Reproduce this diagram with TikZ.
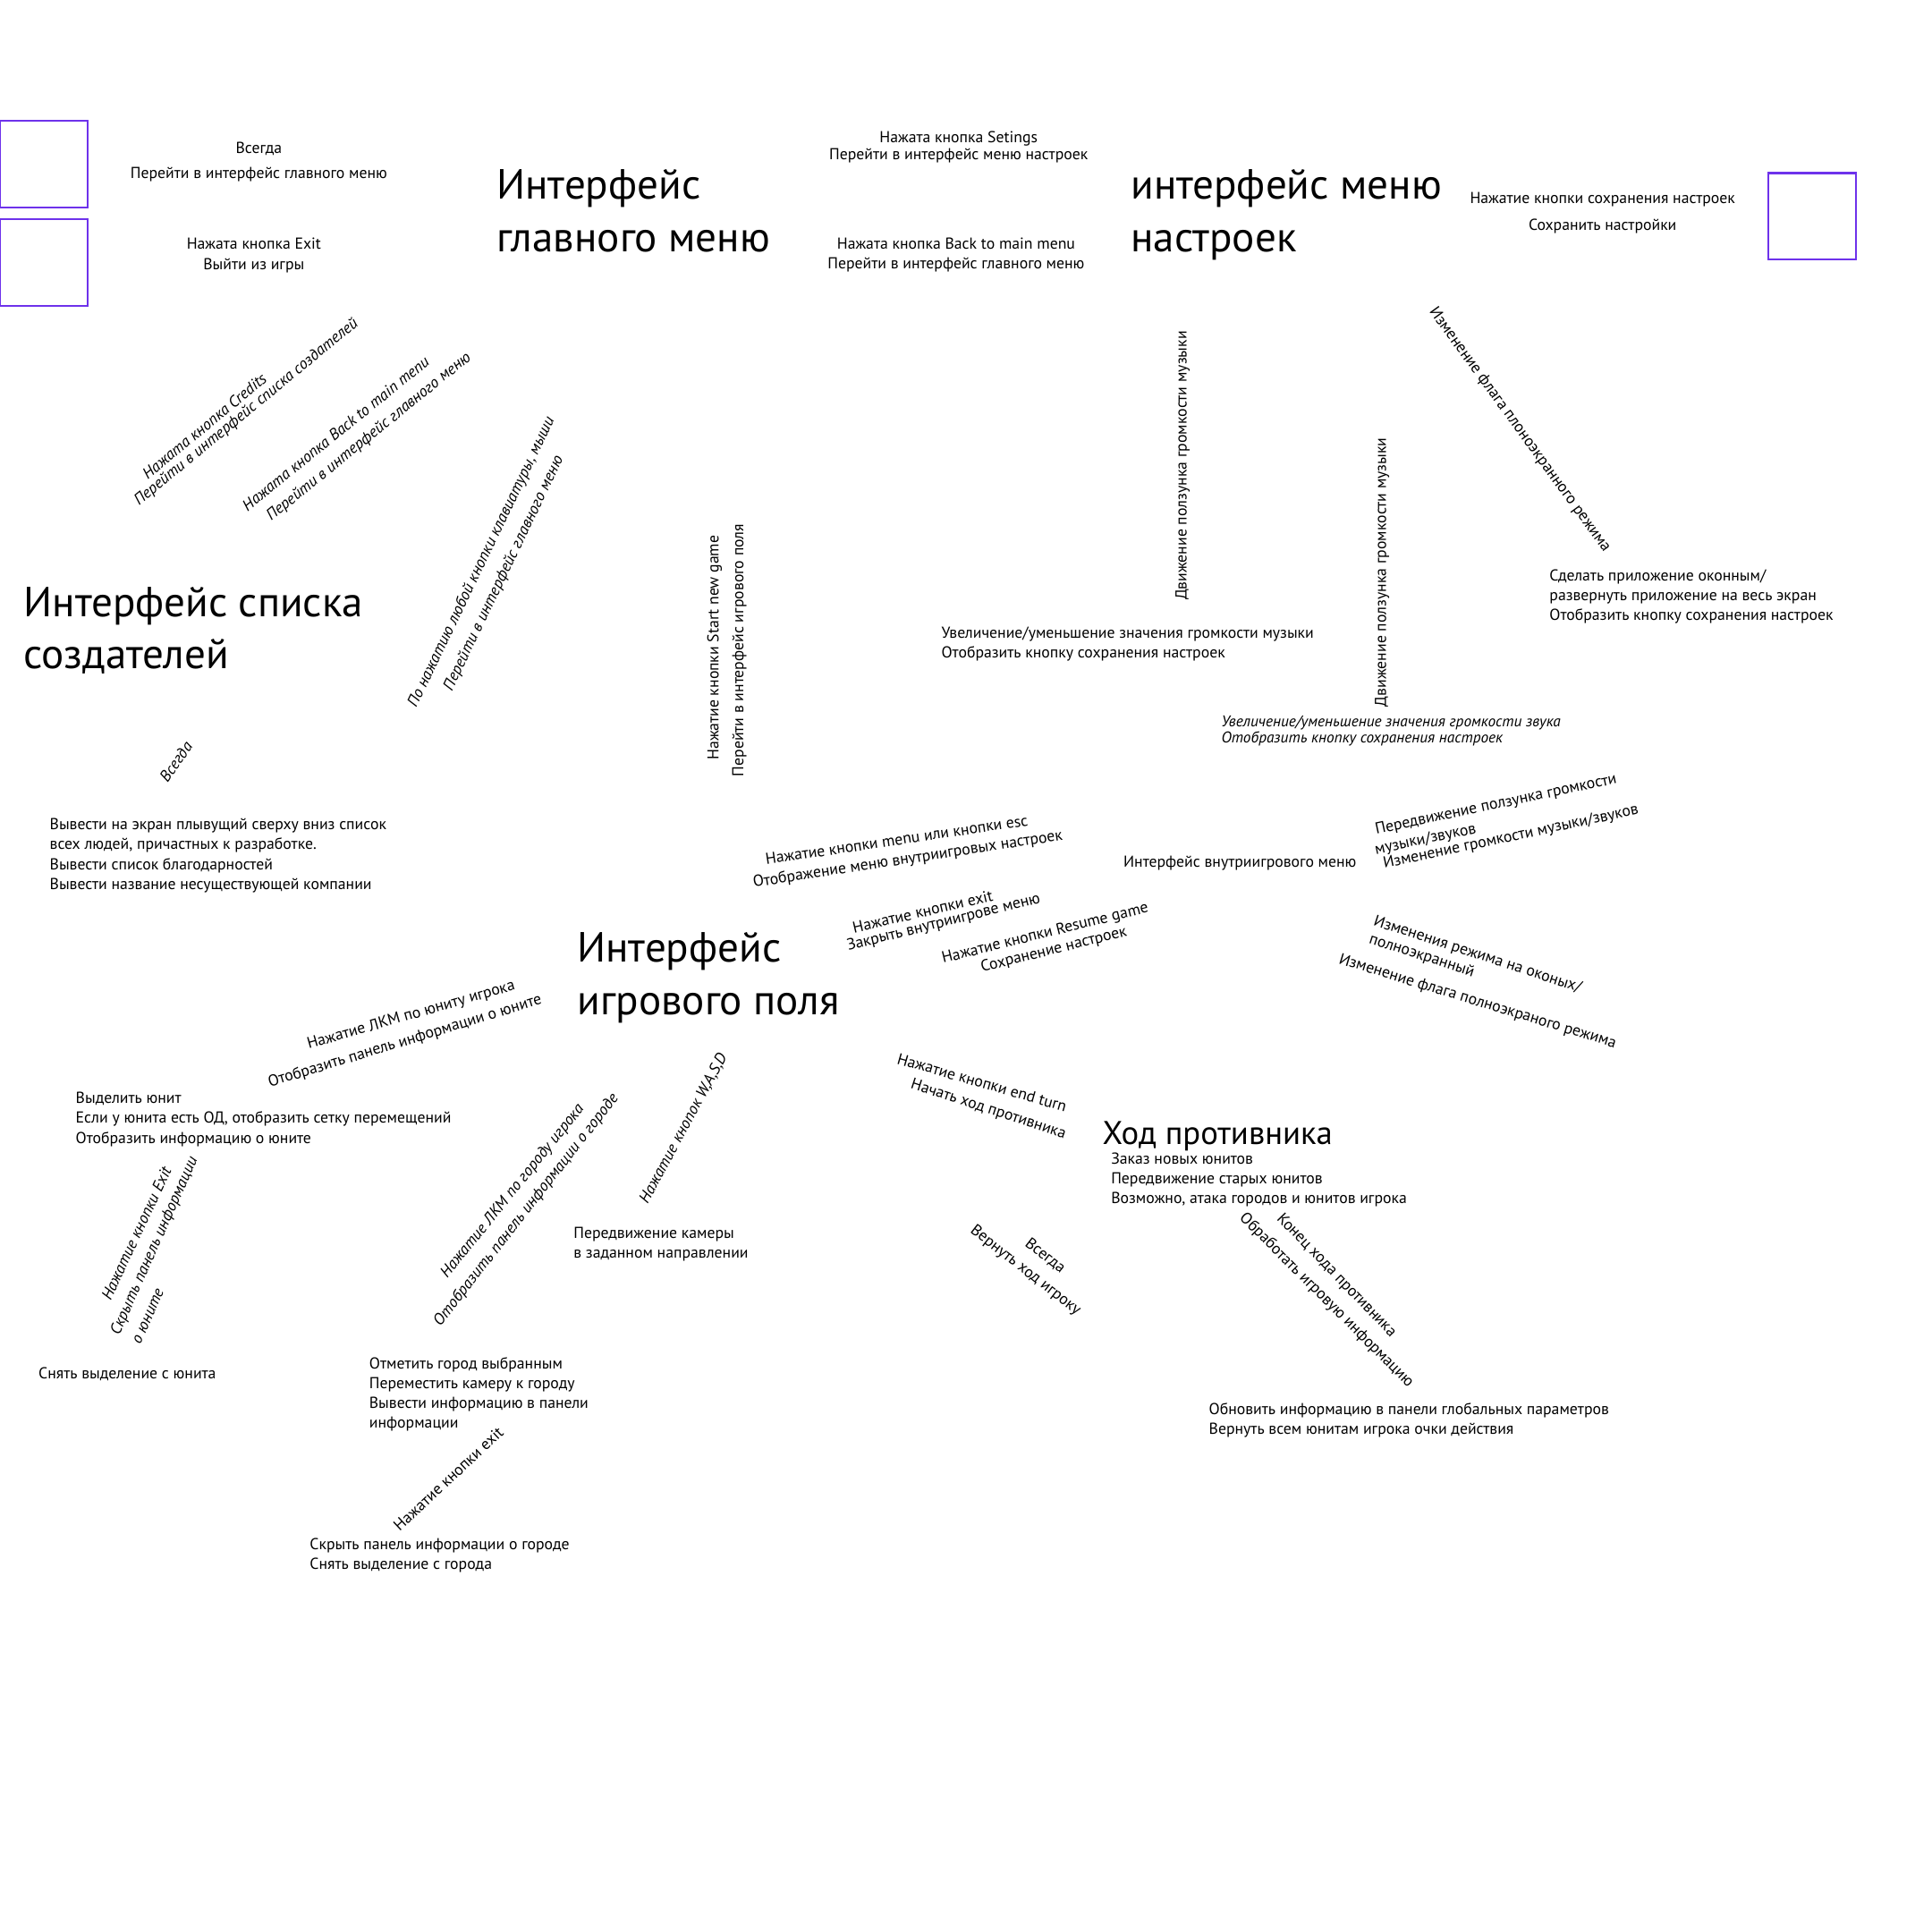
\documentclass[tikz,border=0pt]{standalone}
\usepackage{fontspec}
\setmainfont{PT Sans}
\definecolor{boxc}{RGB}{110,50,235}
\newcommand\bodyf{\fontsize{12.8}{16}\selectfont}
\newcommand\titlef{\fontsize{34}{42}\selectfont}
\tikzset{
  b/.style={inner sep=0pt, font=\bodyf, align=left, anchor=base west},
  bc/.style={inner sep=0pt, font=\bodyf, align=center, anchor=base},
  ln/.style={inner sep=0pt, font=\bodyf, anchor=center},
  it/.style={inner sep=0pt, font=\bodyf\itshape, anchor=center},
  ttl/.style={inner sep=0pt, font=\titlef, align=left, anchor=base west},
  sbox/.style={draw=boxc, line width=1.5pt, minimum width=71pt, minimum height=70pt, anchor=north west, inner sep=0pt},
}
\begin{document}
\begin{tikzpicture}[x=1pt,y=-1pt]
\useasboundingbox[fill=white] (0,0) rectangle (1560,1560);
% boxes
\node[sbox] (s1) at (-1,97) {};
\node[sbox] (s2) at (-1,176) {};
\node[sbox] (s3) at (1427,139) {};
% titles (anchor = baseline of last line)
\node[ttl] (t1) at (401,203) {Интерфейс\\главного меню};
\node[ttl] (t2) at (913,203) {интерфейс меню\\настроек};
\node[ttl] (t3) at (19,540) {Интерфейс списка\\создателей};
\node[ttl] (t4) at (466,819) {Интерфейс\\игрового поля};
\node[ttl, font=\fontsize{26.5}{32}\selectfont] (t5) at (890,924) {Ход противника};
% top labels
\node[bc, font=\fontsize{12.8}{20}\selectfont] (n1) at (209,144) {Всегда\\Перейти в интерфейс главного меню};
\node[bc, font=\fontsize{12.8}{17}\selectfont] (n2) at (205,218) {Нажата кнопка Exit\\Выйти из игры};
\node[bc, font=\fontsize{12.8}{14}\selectfont] (n3) at (774,129) {Нажата кнопка Setings\\Перейти в интерфейс меню настроек};
\node[bc] (n4) at (772,217) {Нажата кнопка Back to main menu\\Перейти в интерфейс главного меню};
\node[bc, font=\fontsize{12.8}{22}\selectfont] (n5) at (1294,186) {Нажатие кнопки сохранения настроек\\Сохранить настройки};
% horizontal blocks (anchor = baseline of last line)
\node[b] (h1) at (760,531) {Увеличение/уменьшение значения громкости музыки\\Отобразить кнопку сохранения настроек};
\node[b] (h2) at (1251,501) {Сделать приложение оконным/\\развернуть приложение на весь экран\\Отобразить кнопку сохранения настроек};
\node[b, font=\fontsize{12.5}{13}\selectfont\itshape] (h3) at (986,600) {Увеличение/уменьшение значения громкости звука\\Отобразить кнопку сохранения настроек};
\node[b] (h4) at (40,718) {Вывести на экран плывущий сверху вниз список\\всех людей, причастных к разработке.\\Вывести список благодарностей\\Вывести название несуществующей компании};
\node[b] (h5) at (907,700) {Интерфейс внутриигрового меню};
\node[b] (h6) at (61,923) {Выделить юнит\\Если у юнита есть ОД, отобразить сетку перемещений\\Отобразить информацию о юните};
\node[b] (h7) at (463,1016) {Передвижение камеры\\в заданном направлении};
\node[b] (h8) at (897,972) {Заказ новых юнитов\\Передвижение старых юнитов\\Возможно, атака городов и юнитов игрока};
\node[b] (h9) at (976,1158) {Обновить информацию в панели глобальных параметров\\Вернуть всем юнитам игрока очки действия};
\node[b] (h10) at (31,1113) {Снять выделение с юнита};
\node[b] (h11) at (298,1153) {Отметить город выбранным\\Переместить камеру к городу\\Вывести информацию в панели\\информации};
\node[b] (h12) at (250,1267) {Скрыть панель информации о городе\\Снять выделение с города};
% rotated labels
\node[it, rotate=39.5] (r1a) at (165,344) {Нажата кнопка Credits};
\node[it, rotate=39.5] (r1b) at (199,333) {Перейти в интерфейс списка создателей};
\node[it, rotate=39] (r2a) at (271,350) {Нажата кнопка Back to main menu};
\node[it, rotate=39] (r2b) at (298,353) {Перейти в интерфейс главного меню};
\node[it, rotate=64.4] (r3a) at (389,454) {По нажатию любой кнопки клавиатуры, мыши};
\node[it, rotate=64.4] (r3b) at (407,463) {Перейти в интерфейс главного меню};
\node[ln, rotate=90] (r4a) at (577,523) {Нажатие кнопки Start new game};
\node[ln, rotate=90] (r4b) at (597,525) {Перейти в интерфейс игрового поля};
\node[it, rotate=55] (r5) at (142,615) {Всегда};
\node[ln, rotate=90] (r6) at (955,376) {Движение ползунка громкости музыки};
\node[ln, rotate=90] (r7) at (1116,462) {Движение ползунка громкости музыки};
\node[ln, rotate=-54] (r8) at (1227,347) {Изменение флага плоноэкранного режима};
\node[ln, rotate=8.5] (r9a) at (724,678) {Нажатие кнопки menu или кнопки esc};
\node[ln, rotate=8.7] (r9b) at (733,694) {Отображение меню внутриигровых настроек};
\node[ln, rotate=12] (r10a) at (1208,650) {Передвижение ползунка громкости};
\node[ln, rotate=12] (r10b) at (1151,678) {музыки/звуков};
\node[ln, rotate=12] (r10c) at (1220,676) {Изменение громкости музыки/звуков};
\node[ln, rotate=13] (r11a) at (745,736) {Нажатие кнопки exit};
\node[ln, rotate=14] (r11b) at (762,745) {Закрыть внутриигрове меню};
\node[ln, rotate=14] (r12a) at (844,754) {Нажатие кнопки Resume game};
\node[ln, rotate=14] (r12b) at (851,767) {Сохранение настроек};
\node[ln, rotate=-18] (r13a) at (1193,771) {Изменения режима на оконых/};
\node[ln, rotate=-18] (r13b) at (1148,772) {полноэкранный};
\node[ln, rotate=-17] (r13c) at (1193,809) {Изменение флага полноэкраного режима};
\node[ln, rotate=16] (r14a) at (332,820) {Нажатие ЛКМ по юниту игрока};
\node[ln, rotate=17] (r14b) at (327,841) {Отобразить панель информации о юните};
\node[it, rotate=65] (r15a) at (110,996) {Нажатие кнопки Exit};
\node[it, rotate=66] (r15b) at (125,1006) {Скрыть панель информации};
\node[it, rotate=66] (r15c) at (120,1063) {о юните};
\node[it, rotate=51] (r16a) at (414,962) {Нажатие ЛКМ по городу игрока};
\node[it, rotate=52] (r16b) at (425,977) {Отобразить панель информации о городе};
\node[it, rotate=61.6] (r17) at (552,911) {Нажатие кнопок W,A,S,D};
\node[ln, rotate=-16] (r18a) at (793,874) {Нажатие кнопки end turn};
\node[ln, rotate=-18] (r18b) at (798,896) {Начать ход противника};
\node[ln, rotate=-38] (r19a) at (844,1014) {Всегда};
\node[ln, rotate=-38] (r19b) at (828,1026) {Вернуть ход игроку};
\node[ln, rotate=-46] (r20a) at (1079,1030) {Конец хода противника};
\node[ln, rotate=-45] (r20b) at (1071,1050) {Обработать игровую информацию};
\node[ln, rotate=43] (r21) at (362,1194) {Нажатие кнопки exit};
\end{tikzpicture}
\end{document}
